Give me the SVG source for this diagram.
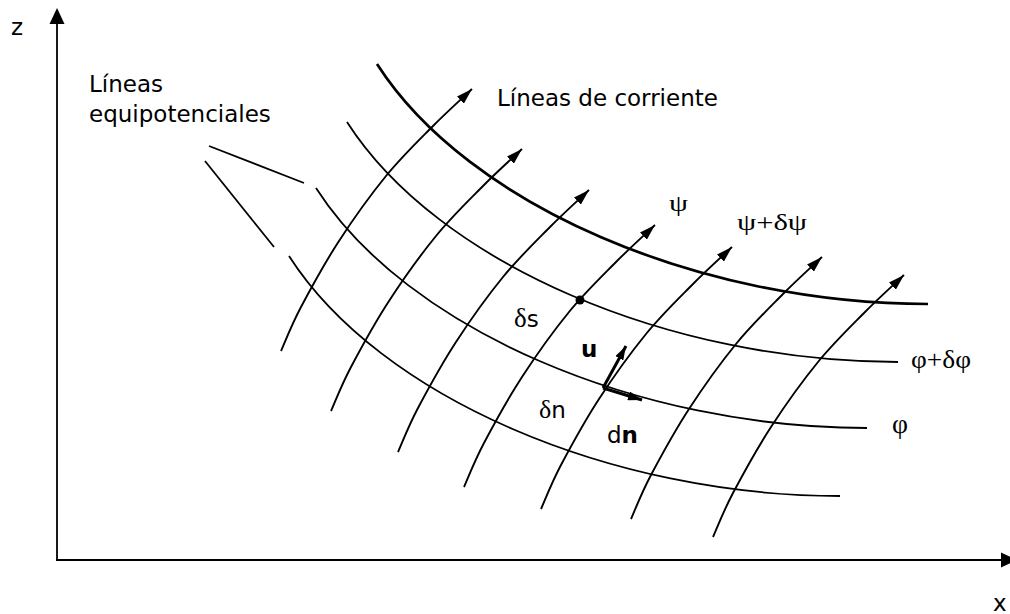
<svg xmlns="http://www.w3.org/2000/svg" width="1010" height="614" viewBox="0 0 1010 614">
<style>
  .ln { fill: none; stroke: #000; stroke-width: 1.8; }
  .thick { fill: none; stroke: #000; stroke-width: 2.7; }
  .stream { fill: none; stroke: #000; stroke-width: 1.9; marker-end: url(#ah); }
  .vec { fill: none; stroke: #000; stroke-width: 3; marker-end: url(#vh); }
  .sans { font-family: "DejaVu Sans", Verdana, sans-serif; font-size: 23px; fill: #000; }
  .greek { font-family: "Liberation Serif", "Times New Roman", serif; fill: #000; }
  .bold { font-weight: bold; }
</style>
<defs>
  <marker id="ah" markerUnits="userSpaceOnUse" viewBox="0 0 16 10" refX="16" refY="5" markerWidth="16" markerHeight="10" orient="auto">
    <path d="M0,0 L16,5 L0,10 Z" fill="#000"/>
  </marker>
  <marker id="vh" markerUnits="userSpaceOnUse" viewBox="0 0 14 9" refX="14" refY="4.5" markerWidth="14" markerHeight="9" orient="auto">
    <path d="M0,0 L14,4.5 L0,9 Z" fill="#000"/>
  </marker>
  <path id="equi" d="M377,64 C468,206 700,304 928,304"/>
</defs>

<g id="axes">
  <line class="ln" x1="57" y1="561" x2="57" y2="22"/>
  <polygon points="57,8 49.5,24 64.5,24" fill="#000"/>
  <line class="ln" x1="56" y1="560" x2="1003" y2="560"/>
  <polygon points="1017,560 1001,552.5 1001,567.5" fill="#000"/>
  <text class="sans" x="11" y="35">z</text>
  <text class="sans" x="993" y="611">x</text>
</g>

<g id="equipotentials">
  <use href="#equi" class="thick"/>
  <use href="#equi" class="ln" transform="translate(-30,58)"/>
  <use href="#equi" class="ln" transform="translate(-61,124)"/>
  <use href="#equi" class="ln" transform="translate(-88,192)"/>
</g>

<g id="streamlines">
  <path class="stream" transform="translate(281,351)" d="M0,0 C3.3,-7.3 10.3,-25.7 20,-44 C29.7,-62.3 43.8,-88.2 58,-110 C72.2,-131.8 89.3,-155.8 105,-175 C120.7,-194.2 137.7,-210.5 152,-225 C166.3,-239.5 184.5,-255.8 191,-262"/>
  <path class="stream" transform="translate(331,411)" d="M0,0 C3.3,-7.3 10.3,-25.7 20,-44 C29.7,-62.3 43.8,-88.2 58,-110 C72.2,-131.8 89.3,-155.8 105,-175 C120.7,-194.2 137.7,-210.5 152,-225 C166.3,-239.5 184.5,-255.8 191,-262"/>
  <path class="stream" transform="translate(398,452)" d="M0,0 C3.3,-7.3 10.3,-25.7 20,-44 C29.7,-62.3 43.8,-88.2 58,-110 C72.2,-131.8 89.3,-155.8 105,-175 C120.7,-194.2 137.7,-210.5 152,-225 C166.3,-239.5 184.5,-255.8 191,-262"/>
  <path class="stream" transform="translate(464,487)" d="M0,0 C3.3,-7.3 10.3,-25.7 20,-44 C29.7,-62.3 43.8,-88.2 58,-110 C72.2,-131.8 89.3,-155.8 105,-175 C120.7,-194.2 137.7,-210.5 152,-225 C166.3,-239.5 184.5,-255.8 191,-262"/>
  <path class="stream" transform="translate(541,509)" d="M0,0 C3.3,-7.3 10.3,-25.7 20,-44 C29.7,-62.3 43.8,-88.2 58,-110 C72.2,-131.8 89.3,-155.8 105,-175 C120.7,-194.2 137.7,-210.5 152,-225 C166.3,-239.5 184.5,-255.8 191,-262"/>
  <path class="stream" transform="translate(631,519)" d="M0,0 C3.3,-7.3 10.3,-25.7 20,-44 C29.7,-62.3 43.8,-88.2 58,-110 C72.2,-131.8 89.3,-155.8 105,-175 C120.7,-194.2 137.7,-210.5 152,-225 C166.3,-239.5 184.5,-255.8 191,-262"/>
  <path class="stream" transform="translate(713,537)" d="M0,0 C3.3,-7.3 10.3,-25.7 20,-44 C29.7,-62.3 43.8,-88.2 58,-110 C72.2,-131.8 89.3,-155.8 105,-175 C120.7,-194.2 137.7,-210.5 152,-225 C166.3,-239.5 184.5,-255.8 191,-262"/>
</g>

<g id="leaders">
  <line class="ln" x1="209" y1="146" x2="304" y2="183"/>
  <line class="ln" x1="205" y1="161" x2="274" y2="247"/>
</g>

<g id="vectors">
  <circle cx="580" cy="300" r="4.5" fill="#000"/>
  <line class="vec" x1="603" y1="388" x2="626" y2="346"/>
  <line class="vec" x1="603" y1="388" x2="642" y2="400"/>
</g>

<g id="labels">
  <text class="sans" x="89" y="92">Líneas</text>
  <text class="sans" x="89" y="122">equipotenciales</text>
  <text class="sans" x="497" y="106">Líneas de corriente</text>
  <text class="greek" x="669" y="211" font-size="24" textLength="19" lengthAdjust="spacingAndGlyphs">ψ</text>
  <text class="greek" x="737" y="230" font-size="24" textLength="70" lengthAdjust="spacingAndGlyphs">ψ+δψ</text>
  <text class="greek" x="911" y="368" font-size="25" textLength="60" lengthAdjust="spacingAndGlyphs">φ+δφ</text>
  <text class="greek" x="892" y="433" font-size="28" textLength="16" lengthAdjust="spacingAndGlyphs">φ</text>
  <text x="514" y="327"><tspan class="greek" font-size="27">δ</tspan><tspan class="sans">s</tspan></text>
  <text x="539" y="418"><tspan class="greek" font-size="26">δ</tspan><tspan class="sans">n</tspan></text>
  <text class="sans bold" x="581" y="357">u</text>
  <text class="sans" x="607" y="443">d<tspan class="bold">n</tspan></text>
</g>
</svg>
